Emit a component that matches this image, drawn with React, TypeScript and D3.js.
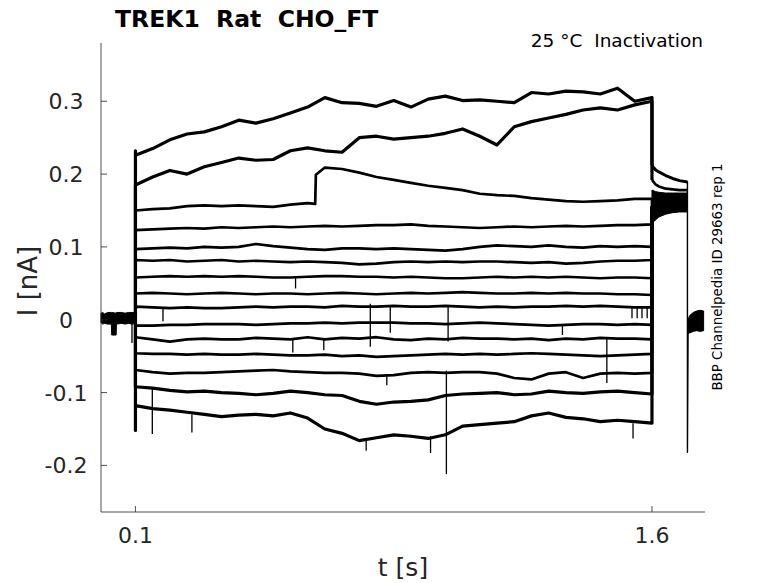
import React from 'react'
import * as d3 from 'd3'

// sample times of the pulse traces [s]
const times = [0.1, 0.15, 0.2, 0.25, 0.3, 0.35, 0.4, 0.45, 0.5, 0.55, 0.6, 0.65, 0.7, 0.75, 0.8, 0.85, 0.9, 0.95, 1.0, 1.05, 1.1, 1.15, 1.2, 1.25, 1.3, 1.35, 1.4, 1.45, 1.5, 1.55, 1.6]

// current during the conditioning pulse [nA], one array per sweep
const tr1 = [0.226, 0.235, 0.247, 0.255, 0.258, 0.265, 0.274, 0.27, 0.276, 0.284, 0.292, 0.305, 0.298, 0.297, 0.293, 0.301, 0.292, 0.303, 0.307, 0.301, 0.302, 0.3, 0.298, 0.312, 0.31, 0.314, 0.313, 0.31, 0.318, 0.3, 0.305]
const tr2 = [0.185, 0.196, 0.205, 0.2, 0.21, 0.216, 0.222, 0.219, 0.22, 0.232, 0.236, 0.232, 0.23, 0.25, 0.252, 0.248, 0.25, 0.252, 0.256, 0.262, 0.252, 0.24, 0.265, 0.272, 0.277, 0.282, 0.288, 0.291, 0.288, 0.295, 0.3]
const t3 = [0.1, 0.15, 0.2, 0.25, 0.3, 0.35, 0.4, 0.45, 0.5, 0.55, 0.6, 0.622, 0.624, 0.65, 0.7, 0.75, 0.8, 0.85, 0.9, 0.95, 1.0, 1.05, 1.1, 1.15, 1.2, 1.25, 1.3, 1.35, 1.4, 1.45, 1.5, 1.55, 1.6]
const tr3 = [0.15, 0.152, 0.153, 0.156, 0.157, 0.156, 0.157, 0.156, 0.155, 0.158, 0.16, 0.159, 0.199, 0.209, 0.207, 0.202, 0.196, 0.192, 0.188, 0.184, 0.181, 0.178, 0.173, 0.171, 0.17, 0.167, 0.165, 0.163, 0.162, 0.163, 0.164, 0.166, 0.166]
const tr4 = [0.123, 0.124, 0.125, 0.126, 0.125, 0.127, 0.126, 0.127, 0.128, 0.127, 0.128, 0.129, 0.128, 0.129, 0.13, 0.13, 0.131, 0.129, 0.128, 0.127, 0.126, 0.127, 0.128, 0.127, 0.128, 0.129, 0.128, 0.129, 0.13, 0.13, 0.131]
const tr5 = [0.097, 0.098, 0.099, 0.098, 0.1, 0.099, 0.1, 0.104, 0.101, 0.099, 0.097, 0.096, 0.098, 0.098, 0.097, 0.098, 0.097, 0.096, 0.095, 0.097, 0.1, 0.102, 0.101, 0.1, 0.102, 0.1, 0.099, 0.101, 0.1, 0.101, 0.1]
const tr6 = [0.082, 0.081, 0.082, 0.08, 0.081, 0.082, 0.08, 0.081, 0.08, 0.079, 0.08, 0.079, 0.078, 0.076, 0.077, 0.079, 0.08, 0.079, 0.08, 0.079, 0.08, 0.08, 0.079, 0.078, 0.079, 0.077, 0.078, 0.08, 0.081, 0.081, 0.082]
const tr7 = [0.058, 0.059, 0.06, 0.059, 0.06, 0.059, 0.06, 0.059, 0.058, 0.058, 0.059, 0.06, 0.06, 0.059, 0.059, 0.058, 0.059, 0.058, 0.057, 0.057, 0.058, 0.059, 0.058, 0.059, 0.058, 0.059, 0.058, 0.057, 0.058, 0.058, 0.057]
const tr8 = [0.036, 0.037, 0.036, 0.035, 0.036, 0.037, 0.036, 0.035, 0.036, 0.036, 0.035, 0.036, 0.037, 0.036, 0.035, 0.036, 0.037, 0.036, 0.037, 0.038, 0.037, 0.036, 0.036, 0.037, 0.036, 0.037, 0.036, 0.036, 0.035, 0.035, 0.034]
const tr9 = [0.018, 0.017, 0.016, 0.017, 0.016, 0.016, 0.017, 0.018, 0.017, 0.018, 0.018, 0.017, 0.019, 0.018, 0.018, 0.019, 0.018, 0.018, 0.019, 0.018, 0.017, 0.018, 0.017, 0.018, 0.018, 0.019, 0.018, 0.019, 0.018, 0.017, 0.017]
const tr10 = [-0.008, -0.008, -0.007, -0.007, -0.006, -0.006, -0.006, -0.007, -0.006, -0.005, -0.005, -0.004, -0.005, -0.004, -0.004, -0.004, -0.005, -0.005, -0.006, -0.005, -0.004, -0.005, -0.006, -0.007, -0.008, -0.007, -0.006, -0.006, -0.007, -0.006, -0.007]
const tr11 = [-0.024, -0.027, -0.03, -0.027, -0.026, -0.027, -0.027, -0.025, -0.026, -0.027, -0.024, -0.027, -0.025, -0.026, -0.024, -0.027, -0.028, -0.026, -0.027, -0.025, -0.026, -0.026, -0.027, -0.026, -0.028, -0.026, -0.027, -0.025, -0.026, -0.026, -0.027]
const tr12 = [-0.046, -0.047, -0.047, -0.048, -0.047, -0.048, -0.048, -0.047, -0.048, -0.049, -0.049, -0.048, -0.05, -0.049, -0.051, -0.05, -0.049, -0.048, -0.047, -0.048, -0.047, -0.048, -0.047, -0.046, -0.047, -0.048, -0.049, -0.05, -0.049, -0.048, -0.047]
const tr13 = [-0.069, -0.072, -0.074, -0.073, -0.073, -0.072, -0.071, -0.07, -0.069, -0.071, -0.072, -0.073, -0.073, -0.074, -0.077, -0.076, -0.073, -0.072, -0.073, -0.072, -0.072, -0.074, -0.08, -0.082, -0.074, -0.072, -0.08, -0.074, -0.073, -0.074, -0.073]
const tr14 = [-0.092, -0.094, -0.097, -0.099, -0.098, -0.1, -0.101, -0.103, -0.101, -0.098, -0.1, -0.103, -0.104, -0.112, -0.116, -0.113, -0.112, -0.11, -0.104, -0.102, -0.101, -0.1, -0.103, -0.102, -0.098, -0.1, -0.101, -0.099, -0.098, -0.1, -0.102]
const tr15 = [-0.118, -0.122, -0.124, -0.127, -0.13, -0.133, -0.131, -0.13, -0.132, -0.128, -0.135, -0.15, -0.156, -0.166, -0.162, -0.158, -0.16, -0.163, -0.158, -0.146, -0.144, -0.142, -0.14, -0.132, -0.128, -0.134, -0.136, -0.14, -0.138, -0.14, -0.142]

// value reached by the capacitive transient at pulse onset
const onset = [0.232, 0.185, 0.15, 0.123, 0.097, 0.082, 0.058, 0.036, 0.018, -0.008, -0.024, -0.046, -0.069, -0.092, -0.152]

// holding segment before the pulse: envelope of all sweeps
const preT = [0, 0.005, 0.01, 0.02, 0.03, 0.031, 0.044, 0.045, 0.06, 0.07, 0.08, 0.09, 0.1]
const preLo = [-0.004, -0.006, -0.005, -0.006, -0.006, -0.021, -0.021, -0.006, -0.005, -0.006, -0.005, -0.006, -0.005]
const preHi = [0.009, 0.01, 0.008, 0.01, 0.01, 0.01, 0.009, 0.01, 0.01, 0.009, 0.01, 0.01, 0.01]

// test segment after the pulse
const postT = [1.6, 1.61, 1.62, 1.64, 1.66, 1.68, 1.703]
const post1 = [0.212, 0.206, 0.203, 0.198, 0.194, 0.191, 0.189]
const post2 = [0.192, 0.186, 0.183, 0.18, 0.179, 0.178, 0.178]
const postLo = [0.132, 0.137, 0.141, 0.145, 0.147, 0.148, 0.148]
const postHi = [0.178, 0.176, 0.175, 0.174, 0.174, 0.174, 0.174]

// return to holding
const tailT = [1.703, 1.703, 1.705]
const tailV = [0.19, -0.182, -0.01]
const endT = [1.704, 1.71, 1.72, 1.73, 1.74, 1.75]
const endLo = [-0.019, -0.018, -0.016, -0.015, -0.016, -0.015]
const endHi = [0.0, 0.006, 0.01, 0.012, 0.013, 0.012]

// short downward glitches: time, top, bottom
const spikeT = [0.09, 0.149, 0.264, 0.18, 0.565, 0.557, 0.647, 0.782, 0.84, 0.83, 1.008, 1.003, 1.34, 1.469, 1.542, 1.557, 1.571, 1.586, 0.957, 0.77, 1.545]
const spikeTop = [0.0, -0.095, -0.13, 0.017, 0.059, -0.026, -0.027, 0.022, 0.018, -0.075, 0.02, -0.07, -0.006, -0.026, 0.018, 0.018, 0.018, 0.018, -0.16, -0.165, -0.142]
const spikeBottom = [-0.032, -0.157, -0.155, -0.002, 0.043, -0.045, -0.042, -0.037, -0.018, -0.09, -0.03, -0.212, -0.021, -0.087, 0.002, 0.002, 0.002, 0.002, -0.183, -0.18, -0.163]

const yTicks = [-0.2, -0.1, 0, 0.1, 0.2, 0.3]
const yTickLabels = ['-0.2', '-0.1', '0', '0.1', '0.2', '0.3']
const xTicks = [0.1, 1.6]
const xTickLabels = ['0.1', '1.6']

const App = () => {
  const width = 778
  const height = 583
  const plot = { left: 101, right: 705, top: 43, bottom: 512 }

  const x = d3.scaleLinear().domain([0, 1.754]).range([plot.left, plot.right])
  const y = d3.scaleLinear().domain([-0.264, 0.38]).range([plot.bottom, plot.top])

  const line = d3
    .line<[number, number]>()
    .x((d) => x(d[0]))
    .y((d) => y(d[1]))
  const band = d3
    .area<[number, number, number]>()
    .x((d) => x(d[0]))
    .y0((d) => y(d[1]))
    .y1((d) => y(d[2]))

  const sweeps = [tr1, tr2, tr3, tr4, tr5, tr6, tr7, tr8, tr9, tr10, tr11, tr12, tr13, tr14, tr15]
  const postStart = sweeps.map((s, i) => (i === 0 ? post1[0] : i === 1 ? post2[0] : 0.155))

  const sweepPaths = sweeps.map((s, i) => {
    const ts = i === 2 ? t3 : times
    const pts: [number, number][] = [[0.1, 0.002], [0.1, onset[i]]]
    s.forEach((v, k) => pts.push([ts[k], v]))
    pts.push([1.6, postStart[i]])
    return line(pts)
  })

  const preBand = band(preT.map((t, i) => [t, preLo[i], preHi[i]]))
  const postBand = band(postT.map((t, i) => [t, postLo[i], postHi[i]]))
  const endBand = band(endT.map((t, i) => [t, endLo[i], endHi[i]]))

  const axisColor = '#262626'
  const font = 'DejaVu Sans'

  return (
    <svg
      width={width}
      height={height}
      style={{ position: 'absolute', left: 0, top: 0, display: 'block', background: '#fff' }}
    >
      <rect x={0} y={0} width={width} height={height} fill="#fff" />

      {/* traces */}
      <g fill="none" stroke="#000" strokeLinejoin="round">
        <path d={preBand} fill="#000" stroke="#000" strokeWidth={1} />
        {sweepPaths.map((d, i) => (
          <path key={i} d={d} strokeWidth={i < 2 || i > 12 ? 3.2 : 2.7} />
        ))}
        {spikeT.map((t, i) => (
          <line
            key={'s' + i}
            x1={x(t)}
            x2={x(t)}
            y1={y(spikeTop[i])}
            y2={y(spikeBottom[i])}
            strokeWidth={1.3}
          />
        ))}
        <path d={postBand} fill="#000" stroke="#000" strokeWidth={1} />
        <path d={line(postT.map((t, i) => [t, post1[i]]))} strokeWidth={3} />
        <path d={line(postT.map((t, i) => [t, post2[i]]))} strokeWidth={2.6} />
        <path d={line(tailT.map((t, i) => [t, tailV[i]]))} strokeWidth={1.4} />
        <path d={endBand} fill="#000" stroke="#000" strokeWidth={1} />
      </g>

      {/* axes */}
      <g stroke={axisColor} strokeWidth={0.8} fill="none">
        <line x1={plot.left} x2={plot.left} y1={plot.top} y2={plot.bottom} />
        <line x1={plot.left} x2={plot.right} y1={plot.bottom} y2={plot.bottom} />
        {yTicks.map((t) => (
          <line key={t} x1={plot.left} x2={plot.left + 6} y1={y(t)} y2={y(t)} />
        ))}
        {xTicks.map((t) => (
          <line key={t} x1={x(t)} x2={x(t)} y1={plot.bottom} y2={plot.bottom - 6} />
        ))}
      </g>

      <g fill={axisColor} fontFamily={font} fontSize={22}>
        {yTicks.map((t, i) => (
          <text key={t} x={66} y={y(t) + 8} textAnchor="middle">
            {yTickLabels[i]}
          </text>
        ))}
        {xTicks.map((t, i) => (
          <text key={t} x={x(t)} y={543} textAnchor="middle">
            {xTickLabels[i]}
          </text>
        ))}
      </g>

      <text x={403} y={576} textAnchor="middle" fontFamily={font} fontSize={25} fill={axisColor}>
        t [s]
      </text>
      <text
        transform="translate(37,281) rotate(-90)"
        textAnchor="middle"
        fontFamily={font}
        fontSize={26}
        fill={axisColor}
      >
        I [nA]
      </text>

      <text
        x={115}
        y={27}
        fontFamily={font}
        fontWeight="bold"
        fontSize={23.5}
        fill="#000"
        style={{ whiteSpace: 'pre' }}
      >
        TREK1  Rat  CHO_FT
      </text>
      <text
        x={703}
        y={47}
        textAnchor="end"
        fontFamily={font}
        fontSize={18.5}
        fill="#000"
        style={{ whiteSpace: 'pre' }}
      >
        25 °C  Inactivation
      </text>
      <text
        transform="translate(722,277) rotate(-90)"
        textAnchor="middle"
        fontFamily={font}
        fontSize={13.4}
        fill="#000"
      >
        BBP Channelpedia ID 29663 rep 1
      </text>
    </svg>
  )
}

export default App
